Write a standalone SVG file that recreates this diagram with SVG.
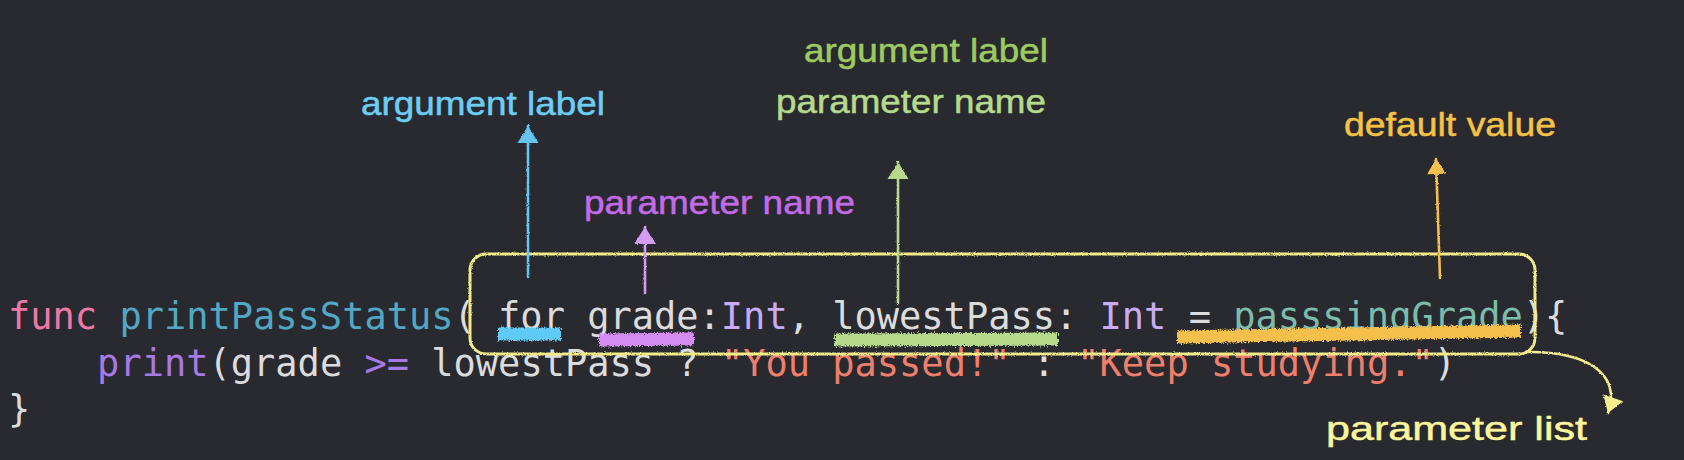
<svg xmlns="http://www.w3.org/2000/svg" width="1684" height="460" viewBox="0 0 1684 460">
<defs>
<style>
.code{font-family:"DejaVu Sans Mono","Liberation Mono",monospace;font-size:37px;fill:#dcdcdc}
.kw{fill:#ee78a5}.fd{fill:#52a8c4}.ty{fill:#c9abf7}.pv{fill:#7bbcaa}.fn{fill:#a779e4}.st{fill:#ee7f6c}
.lbl{font-family:"Liberation Sans",Arial,sans-serif;font-size:34px;stroke-width:0.5}
.line{fill:none;stroke-width:2.6;stroke-linecap:round;filter:url(#rough)}
.hl{fill:none;stroke-width:13;stroke-linecap:butt;filter:url(#roughHi)}
</style>
<filter id="rough" filterUnits="userSpaceOnUse" x="0" y="0" width="1684" height="460">
<feTurbulence type="fractalNoise" baseFrequency="0.9" numOctaves="2" seed="4" result="n"/>
<feDisplacementMap in="SourceGraphic" in2="n" scale="2.5" xChannelSelector="R" yChannelSelector="G"/>
</filter>
<filter id="roughHi" filterUnits="userSpaceOnUse" x="0" y="0" width="1684" height="460">
<feTurbulence type="fractalNoise" baseFrequency="0.7" numOctaves="2" seed="9" result="n"/>
<feDisplacementMap in="SourceGraphic" in2="n" scale="6" xChannelSelector="R" yChannelSelector="G"/>
</filter>
<marker id="ah-blue" markerUnits="userSpaceOnUse" markerWidth="30" markerHeight="30" refX="0" refY="0" orient="auto" overflow="visible"><path d="M-17,-10.5 L0,0 L-17,10.5 Z" fill="#62c4ef"/></marker>
<marker id="ah-purple" markerUnits="userSpaceOnUse" markerWidth="30" markerHeight="30" refX="0" refY="0" orient="auto" overflow="visible"><path d="M-17,-11 L0,0 L-17,11 Z" fill="#d49bf3"/></marker>
<marker id="ah-green" markerUnits="userSpaceOnUse" markerWidth="30" markerHeight="30" refX="0" refY="0" orient="auto" overflow="visible"><path d="M-17,-10.5 L0,0 L-17,10.5 Z" fill="#b6d98c"/></marker>
<marker id="ah-orange" markerUnits="userSpaceOnUse" markerWidth="30" markerHeight="30" refX="0" refY="0" orient="auto" overflow="visible"><path d="M-15,-9.5 L0,0 L-15,9.5 Z" fill="#f4c04c"/></marker>
<marker id="ah-yellow" markerUnits="userSpaceOnUse" markerWidth="30" markerHeight="30" refX="0" refY="0" orient="auto" overflow="visible"><path d="M-16,-10.5 L0,0 L-16,10.5 Z" fill="#f5ec8c"/></marker>
</defs>
<rect width="1684" height="460" fill="#292a2f"/>

<g id="code">
<text class="code" x="8" y="329" xml:space="preserve"><tspan class="kw">func</tspan> <tspan class="fd">printPassStatus</tspan>( for grade:<tspan class="ty">Int</tspan>, lowestPass: <tspan class="ty">Int</tspan> = <tspan class="pv">passsingGrade</tspan>){</text>
<text class="code" x="8" y="376" xml:space="preserve">    <tspan class="fn">print</tspan>(grade <tspan class="fn">&gt;=</tspan> lowestPass ? <tspan class="st">"You passed!"</tspan> : <tspan class="st">"Keep studying."</tspan>)</text>
<text class="code" x="8" y="422">}</text>
</g>

<g id="highlights">
<path class="hl" d="M498,334 L561,334" stroke="#5fc9f7"/>
<path class="hl" d="M599,340 L694,339" stroke="#d48cf2"/>
<path class="hl" d="M835,340 L1058,339" stroke="#b6d98c"/>
<path class="hl" d="M1177,337 L1521,331" stroke="#f4c04c"/>
</g>

<g id="parameter-list-box">
<rect x="470" y="254" width="1065" height="100" rx="16" fill="none" stroke="#f3ea8a" stroke-width="3" filter="url(#rough)"/>
</g>

<g id="connectors">
<path class="line" d="M528,277 L528,126" stroke="#62c4ef" marker-end="url(#ah-blue)"/>
<path class="line" d="M645,293 L645,227" stroke="#d49bf3" marker-end="url(#ah-purple)"/>
<path class="line" d="M898,303 L898,162" stroke="#b6d98c" marker-end="url(#ah-green)"/>
<path class="line" d="M1440,278 L1436,159" stroke="#f4c04c" marker-end="url(#ah-orange)"/>
<path class="line" d="M1526,352 C1584,351 1622,372 1608,413" stroke="#f5ec8c" marker-end="url(#ah-yellow)"/>
</g>

<g id="label-argument-label-for">
<text class="lbl" x="361" y="115" fill="#6ccef5" stroke="#6ccef5" textLength="244" lengthAdjust="spacingAndGlyphs">argument label</text>
</g>
<g id="label-parameter-name-grade">
<text class="lbl" x="584" y="214" fill="#c46ae9" stroke="#c46ae9" textLength="271" lengthAdjust="spacingAndGlyphs">parameter name</text>
</g>
<g id="label-lowestPass">
<text class="lbl" x="804" y="62" fill="#9dcb60" stroke="#9dcb60" textLength="244" lengthAdjust="spacingAndGlyphs">argument label</text>
<text class="lbl" x="776" y="113" fill="#b6da8c" stroke="#b6da8c" textLength="270" lengthAdjust="spacingAndGlyphs">parameter name</text>
</g>
<g id="label-default-value">
<text class="lbl" x="1344" y="136" fill="#f5c246" stroke="#f5c246" textLength="212" lengthAdjust="spacingAndGlyphs">default value</text>
</g>
<g id="label-parameter-list">
<text class="lbl" x="1326" y="440" fill="#fcf59b" stroke="#fcf59b" font-size="37" textLength="261" lengthAdjust="spacingAndGlyphs">parameter list</text>
</g>
</svg>
